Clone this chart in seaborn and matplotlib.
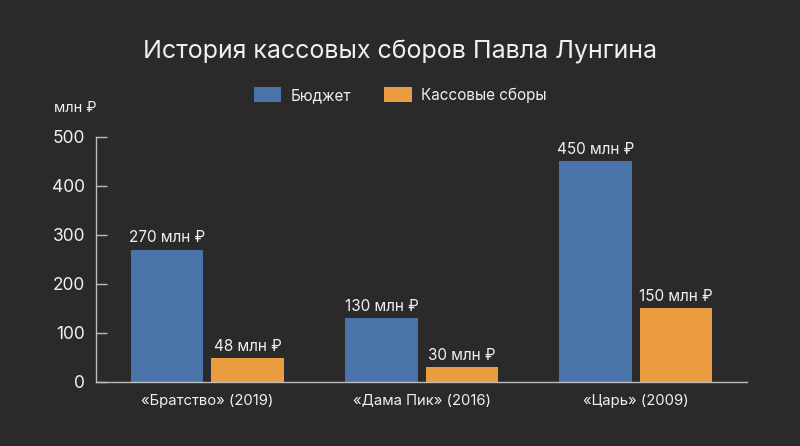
import matplotlib
matplotlib.use("Agg")
import matplotlib.pyplot as plt
import seaborn as sns
import pandas as pd
from matplotlib.patches import Patch

films = ["«Братство» (2019)", "«Дама Пик» (2016)", "«Царь» (2009)"]
budget = [270, 130, 450]
boxoffice = [48, 30, 150]
series = ["Бюджет", "Кассовые сборы"]
yticks = [0, 100, 200, 300, 400, 500]

BG = "#2a2a2a"
BLUE = "#4a73aa"
ORANGE = "#eb9c40"
FG = "#f0f0f0"
AX = "#bdbdbd"

sns.set_theme(style="dark")
plt.rcParams["font.family"] = ["Inter", "DejaVu Sans"]

df = pd.DataFrame({
    "film": films * 2,
    "value": budget + boxoffice,
    "series": [series[0]] * 3 + [series[1]] * 3,
})

fig = plt.figure(figsize=(8, 4.46), dpi=100, facecolor=BG)
ax = fig.add_axes([0.12, 0.1435, 0.814, 0.5495])
ax.set_facecolor(BG)

sns.barplot(data=df, x="film", y="value", hue="series", order=films,
            hue_order=series, palette=[BLUE, ORANGE], width=0.75, gap=0.1,
            saturation=1, ax=ax, legend=False, errorbar=None, linewidth=0)

for cont in ax.containers:
    ax.bar_label(cont, labels=[f"{v:g} млн ₽" for v in cont.datavalues],
                 padding=3, color=FG, fontsize=11)

ax.set_ylim(0, 500)
ax.set_xlim(-0.52, 2.52)
ax.set_yticks(yticks)
ax.set_xlabel("")
ax.set_ylabel("")
ax.grid(False)
for s in ["top", "right"]:
    ax.spines[s].set_visible(False)
for s in ["left", "bottom"]:
    ax.spines[s].set_visible(True)
    ax.spines[s].set_color(AX)
    ax.spines[s].set_linewidth(1)
ax.tick_params(axis="y", direction="in", length=8, width=1, color=AX,
               labelcolor=FG, labelsize=12.5, pad=8, left=True)
ax.tick_params(axis="x", length=0, labelcolor=FG, labelsize=10.7, pad=9)

fig.text(0.12, 1 - 108 / 446, "млн ₽", color=FG, fontsize=10.5,
         ha="right", va="center")
fig.text(0.5, 1 - 52 / 446, "История кассовых сборов Павла Лунгина",
         color=FG, fontsize=18, ha="center", va="center")

handles = [Patch(facecolor=BLUE, edgecolor="none", label=series[0]),
           Patch(facecolor=ORANGE, edgecolor="none", label=series[1])]
leg = fig.legend(handles=handles, loc="center", bbox_to_anchor=(0.5, 1 - 95 / 446),
                 ncol=2, frameon=False, fontsize=11, labelcolor=FG,
                 handlelength=1.8, handleheight=1.15, handletextpad=0.6,
                 columnspacing=2.2)

fig.savefig("out.png", dpi=100, facecolor=BG)
